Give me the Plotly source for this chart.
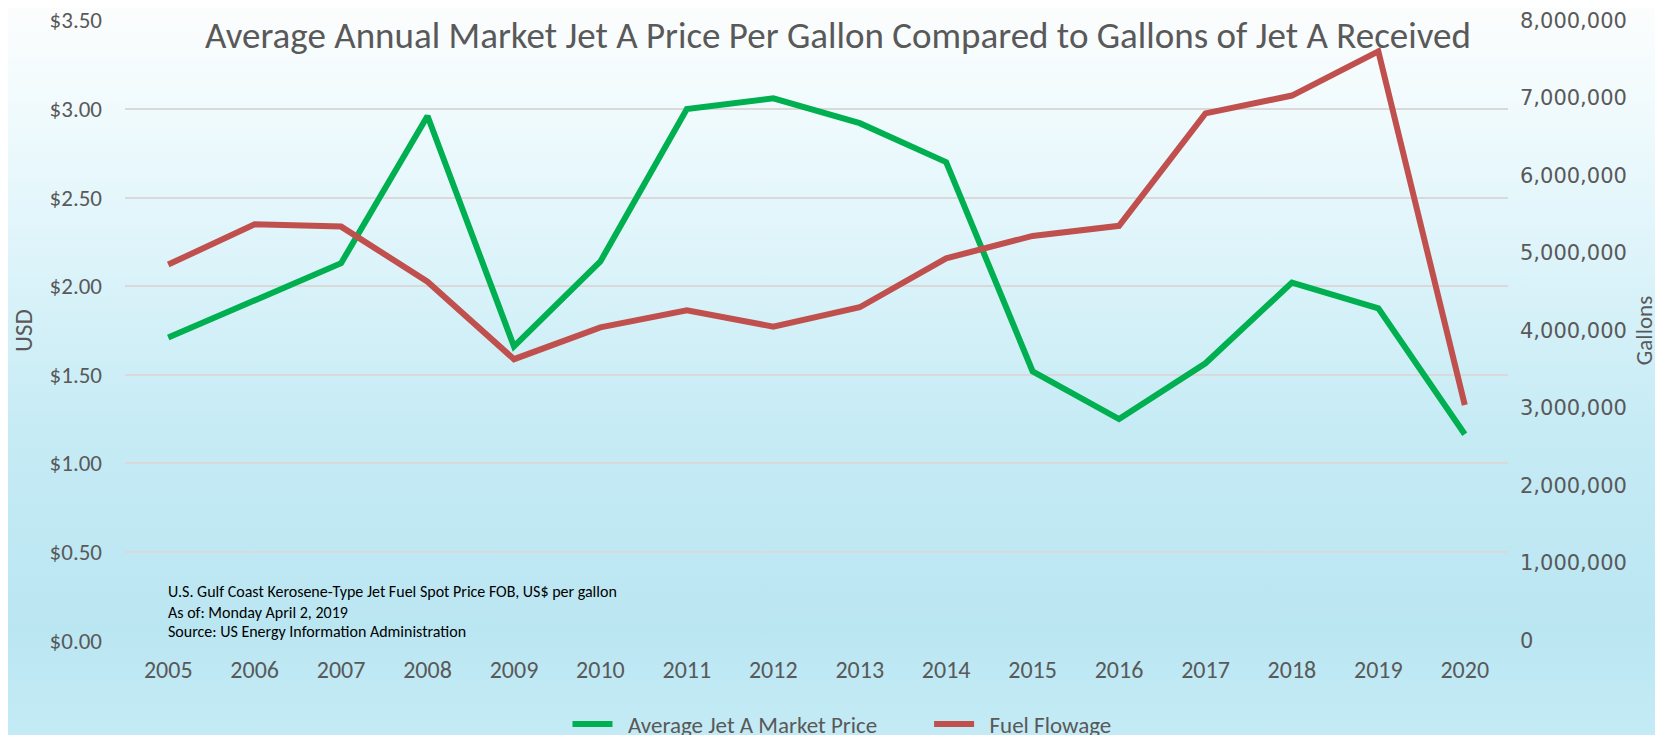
import plotly.graph_objects as go

years = ["2005", "2006", "2007", "2008", "2009", "2010", "2011", "2012",
         "2013", "2014", "2015", "2016", "2017", "2018", "2019", "2020"]
price_usd = [1.71, 1.92, 2.13, 2.96, 1.66, 2.14, 3.00, 3.06,
             2.92, 2.70, 1.52, 1.25, 1.565, 2.02, 1.875, 1.165]
gallons = [4850000, 5370000, 5340000, 4630000, 3630000, 4040000, 4260000, 4050000,
           4300000, 4930000, 5220000, 5350000, 6800000, 7030000, 7600000, 3040000]

price_name = "Average Jet A Market Price"
flow_name = "Fuel Flowage"
title_text = "Average Annual Market Jet A Price Per Gallon Compared to Gallons of Jet A Received"
note_lines = ["U.S. Gulf Coast Kerosene-Type Jet Fuel Spot Price FOB, US$ per gallon",
              "As of: Monday April 2, 2019",
              "Source: US Energy Information Administration"]

OFF = 8  # page body margin
W, H = 1663 - OFF, 735 - OFF
L, R, T, B = 125 - OFF, 155, 20 - OFF, 94
pw, ph = W - L - R, H - T - B

FONT = "Carlito, Lato, sans-serif"
GREY = "#595959"
NB = "\u00a0"

fig = go.Figure()
fig.add_trace(go.Scatter(x=years, y=price_usd, name=NB * 2 + price_name + NB * 9, mode="lines",
                         line=dict(color="#00b050", width=6), yaxis="y"))
fig.add_trace(go.Scatter(x=years, y=gallons, name=NB * 2 + flow_name, mode="lines",
                         line=dict(color="#c0504d", width=6), yaxis="y2"))

svg = ("data:image/svg+xml;utf8,"
       "<svg xmlns='http://www.w3.org/2000/svg' width='100' height='100' preserveAspectRatio='none'>"
       "<defs><linearGradient id='g' x1='0' y1='0' x2='0' y2='1'>"
       "<stop offset='0' stop-color='%23fcfdfd'/>"
       "<stop offset='0.12' stop-color='%23f2fbfd'/>"
       "<stop offset='0.28' stop-color='%23e3f6fb'/>"
       "<stop offset='0.58' stop-color='%23c6ebf5'/>"
       "<stop offset='0.85' stop-color='%23bae6f2'/>"
       "<stop offset='1' stop-color='%23c4ebf5'/>"
       "</linearGradient></defs>"
       "<rect width='100' height='100' fill='url(%23g)'/></svg>")

fig.add_layout_image(dict(source=svg, xref="paper", yref="paper",
                          x=-L / pw, y=1 + T / ph, sizex=W / pw, sizey=H / ph,
                          xanchor="left", yanchor="top", sizing="stretch", layer="below"))


def px_x(x):
    return (x - OFF - L) / pw


def px_y(y):
    return (H - B - (y - OFF)) / ph


annotations = [dict(text=title_text, x=px_x(838), y=px_y(35), xref="paper", yref="paper",
                    showarrow=False, xanchor="center", yanchor="middle",
                    font=dict(family=FONT, size=37, color=GREY))]
for line, yy in zip(note_lines, [591, 612, 631]):
    annotations.append(dict(text=line, x=px_x(166), y=px_y(yy), xref="paper", yref="paper",
                            showarrow=False, xanchor="left", yanchor="middle",
                            font=dict(family=FONT, size=16, color="#000000")))

eps1 = 0.002
eps2 = eps1 / 3.5 * 8000000

fig.update_layout(
    width=W, height=H,
    margin=dict(l=L, r=R, t=T, b=B, autoexpand=False),
    paper_bgcolor="rgba(0,0,0,0)", plot_bgcolor="rgba(0,0,0,0)",
    showlegend=True,
    legend=dict(orientation="h", x=px_x(842), y=px_y(724), xanchor="center", yanchor="middle",
                font=dict(family=FONT, size=23, color=GREY), bgcolor="rgba(0,0,0,0)",
                itemwidth=40),
    xaxis=dict(type="category", range=[-0.5, 15.5], showgrid=False, showline=False,
               zeroline=False, ticks="", tickfont=dict(family=FONT, size=24, color=GREY),
               ticklabelstandoff=12),
    yaxis=dict(range=[-eps1, 3.5 + eps1], tickvals=[0, 0.5, 1, 1.5, 2, 2.5, 3, 3.5],
               tickformat="$.2f", showgrid=True, ticklabeloverflow="allow",
               gridcolor="#d9d9d9", gridwidth=1.5, zeroline=False, showline=False,
               tickfont=dict(family=FONT, size=23, color=GREY), ticklabelstandoff=22,
               title=dict(text="USD", font=dict(family=FONT, size=25, color=GREY), standoff=10)),
    yaxis2=dict(range=[-eps2, 8000000 + eps2], tickvals=[i * 1000000 for i in range(9)],
                tickformat=",d", overlaying="y", ticklabeloverflow="allow",
                side="right", showgrid=False, zeroline=False, showline=False,
                tickfont=dict(family="DejaVu Sans", size=21, color=GREY), ticklabelstandoff=11,
                title=dict(text="Gallons", font=dict(family=FONT, size=23, color=GREY), standoff=10)),
    annotations=annotations,
)

fig.write_html("out.html")
